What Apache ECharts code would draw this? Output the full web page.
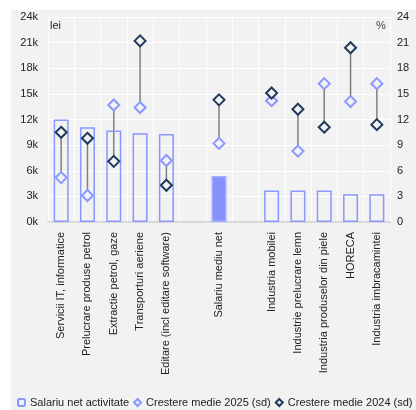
<!DOCTYPE html>
<html>
<head>
<meta charset="utf-8">
<script src="https://cdn.jsdelivr.net/npm/echarts@6/dist/echarts.min.js"></script>
<style>
  html, body { margin: 0; padding: 0; background: #fff; }
  #main { width: 416px; height: 410px; }
</style>
</head>
<body>
<div id="main"></div>
<script>
// date
var categorii = [
    'Servicii IT, informatice', 'Prelucrare produse petrol', 'Extractie petrol, gaze',
    'Transporturi aeriene', 'Editare (incl editare software)', '',
    'Salariu mediu net', '', 'Industria mobilei', 'Industrie prelucrare lemn',
    'Industria produselor din piele', 'HORECA', 'Industria imbracamintei'
];
var salariuNet = [12.0, 11.1, 10.7, 10.4, 10.3, null, 5.4, null, 3.7, 3.7, 3.7, 3.25, 3.25]; // mii lei
var crestere2025 = [5.2, 3.1, 13.7, 13.4, 7.2, null, 9.2, null, 14.2, 8.3, 16.2, 14.1, 16.2]; // %
var crestere2024 = [10.5, 9.8, 7.1, 21.2, 4.3, null, 14.3, null, 15.1, 13.2, 11.1, 20.4, 11.4]; // %
var ticksLei = ['0k', '3k', '6k', '9k', '12k', '15k', '18k', '21k', '24k'];

var albastru = '#8a97ff';
var bleumarin = '#1f3a5c';
var fundal = '#f2f2f2';

var chartDom = document.getElementById('main');
var myChart = echarts.init(chartDom);
var option;

var legaturi = [];
crestere2025.forEach(function (v, i) {
    if (v != null) legaturi.push([i, v, crestere2024[i]]);
});

option = {
    backgroundColor: '#fff',
    animation: false,
    textStyle: { fontFamily: 'Liberation Sans, Arial, sans-serif' },
    graphic: [
        { type: 'rect', z: -10, shape: { x: 11, y: 10, width: 405, height: 400 }, style: { fill: fundal } },
        { type: 'text', left: 50, top: 20, style: { text: 'lei', fontSize: 11, fill: '#222', fontFamily: 'Liberation Sans' } },
        { type: 'text', left: 376, top: 20, style: { text: '%', fontSize: 11, fill: '#444', fontFamily: 'Liberation Sans' } }
    ],
    grid: { left: 48, right: 26, top: 17, bottom: 188 },
    legend: {
        left: 17,
        bottom: 2,
        width: 400,
        padding: 0,
        itemWidth: 7,
        itemHeight: 7,
        itemGap: 4,
        textStyle: { fontSize: 11, color: '#222' },
        data: ['Salariu net activitate', 'Crestere medie 2025 (sd)', 'Crestere medie 2024 (sd)']
    },
    xAxis: {
        type: 'category',
        data: categorii,
        axisLine: { lineStyle: { color: '#d9d9d9', width: 2 } },
        axisTick: { show: false },
        splitLine: { show: true, lineStyle: { color: '#fff', width: 1 } },
        axisLabel: { rotate: 90, interval: 0, fontSize: 11, color: '#222', margin: 10 }
    },
    yAxis: [
        {
            type: 'value', min: 0, max: 24, interval: 3,
            axisLabel: {
                fontSize: 11, color: '#222', margin: 10,
                formatter: function (v) { return ticksLei[Math.round(v / 3)]; }
            },
            splitLine: { lineStyle: { color: '#fff', width: 1 } },
            axisLine: { show: false }, axisTick: { show: false }
        },
        {
            type: 'value', min: 0, max: 24, interval: 3,
            position: 'right',
            axisLabel: { fontSize: 11, color: '#222', margin: 7 },
            splitLine: { show: false },
            axisLine: { show: false }, axisTick: { show: false }
        }
    ],
    series: [
        {
            name: 'Salariu net activitate',
            type: 'bar',
            barWidth: 15,
            itemStyle: { color: 'rgba(0,0,0,0)', borderColor: albastru, borderWidth: 1.5 },
            data: salariuNet.map(function (v, i) {
                if (v == null) return '-';
                if (categorii[i] === 'Salariu mediu net') {
                    return { value: v, itemStyle: { color: '#8491ff', borderColor: '#a3adff' } };
                }
                return v;
            })
        },
        {
            type: 'custom',
            yAxisIndex: 1,
            z: 2,
            silent: true,
            renderItem: function (params, api) {
                var a = api.coord([api.value(0), api.value(1)]);
                var b = api.coord([api.value(0), api.value(2)]);
                return {
                    type: 'line',
                    shape: { x1: a[0], y1: a[1], x2: b[0], y2: b[1] },
                    style: { stroke: '#7f7f7f', lineWidth: 1.5 }
                };
            },
            encode: { x: 0, y: [1, 2] },
            data: legaturi
        },
        {
            name: 'Crestere medie 2025 (sd)',
            type: 'scatter',
            yAxisIndex: 1,
            z: 3,
            symbol: 'diamond',
            symbolSize: [11, 11],
            itemStyle: { color: fundal, borderColor: albastru, borderWidth: 2, opacity: 1 },
            data: crestere2025.map(function (v, i) { return v == null ? [i, '-'] : [i, v]; })
        },
        {
            name: 'Crestere medie 2024 (sd)',
            type: 'scatter',
            yAxisIndex: 1,
            z: 4,
            symbol: 'diamond',
            symbolSize: [11, 11],
            itemStyle: { color: fundal, borderColor: bleumarin, borderWidth: 2, opacity: 1 },
            data: crestere2024.map(function (v, i) { return v == null ? [i, '-'] : [i, v]; })
        }
    ]
};

option && myChart.setOption(option);
</script>
</body>
</html>
